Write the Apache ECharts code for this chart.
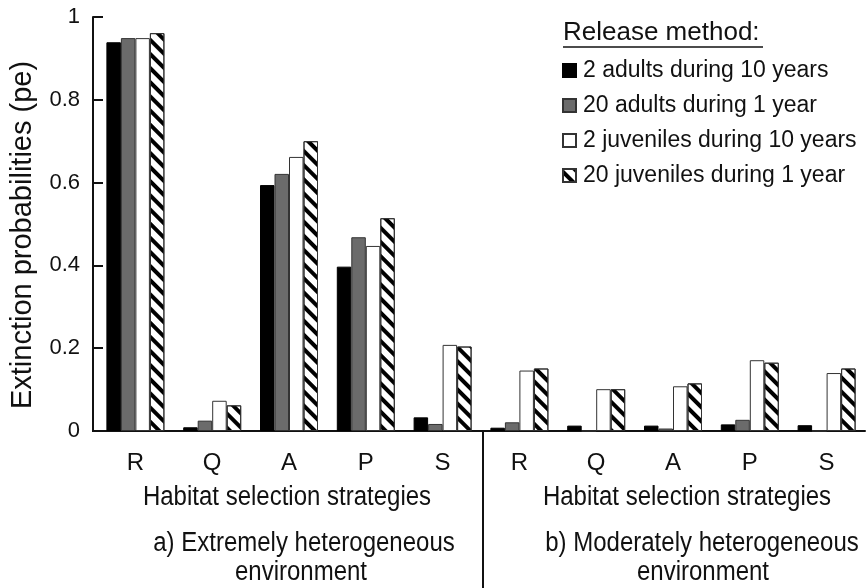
<!DOCTYPE html>
<html>
<head>
<meta charset="utf-8">
<script src="https://cdn.jsdelivr.net/npm/echarts@6/dist/echarts.min.js"></script>
<style>
html,body{margin:0;padding:0;background:#fff;}
#chart{width:866px;height:588px;}
</style>
</head>
<body>
<div id="chart"></div>
<script>
// ---- data ----
const categories = ['R', 'Q', 'A', 'P', 'S', 'R', 'Q', 'A', 'P', 'S'];
const seriesNames = ['2 adults during 10 years', '20 adults during 1 year', '2 juveniles during 10 years', '20 juveniles during 1 year'];
const adults2 = [0.939, 0.009, 0.594, 0.397, 0.033, 0.008, 0.013, 0.013, 0.016, 0.014];
const adults20 = [0.949, 0.025, 0.621, 0.468, 0.017, 0.021, 0, 0.006, 0.027, 0];
const juveniles2 = [0.949, 0.073, 0.662, 0.447, 0.208, 0.146, 0.101, 0.108, 0.171, 0.140];
const juveniles20 = [0.961, 0.062, 0.700, 0.514, 0.204, 0.151, 0.101, 0.115, 0.165, 0.151];
const yAxisTitle = 'Extinction probabilities (pe)';
const legendTitle = 'Release method:';
const xAxisTitle = 'Habitat selection strategies';
const panelTitles = [['a) Extremely heterogeneous', 'environment'], ['b) Moderately heterogeneous', 'environment']];

const FONT = '"Liberation Sans", Arial, Helvetica, sans-serif';
const INK = '#111';

const chart = echarts.init(document.getElementById('chart'));

function barSeries(name, data, style) {
  return {
    name: name,
    type: 'bar',
    data: data,
    barWidth: 14.5,
    barGap: '0%',
    itemStyle: style,
    emphasis: { disabled: true },
    animation: false
  };
}

const option = {
  backgroundColor: '#fff',
  animation: false,
  textStyle: { fontFamily: FONT, color: INK },
  grid: { left: 97, right: 1, top: 17, bottom: 157, containLabel: false },
  legend: {
    orient: 'vertical',
    left: 557,
    top: 54,
    itemWidth: 13,
    itemHeight: 13,
    itemGap: 12,
    icon: 'rect',
    selectedMode: false,
    textStyle: { fontSize: 23, color: INK, fontFamily: FONT, padding: [0, 0, 0, 2] },
    data: seriesNames
  },
  xAxis: {
    type: 'category',
    data: categories,
    axisLine: { lineStyle: { color: INK, width: 2 } },
    axisTick: { show: false },
    axisLabel: { fontSize: 24, color: INK, margin: 20, fontFamily: FONT, interval: 0 }
  },
  yAxis: {
    type: 'value',
    min: 0,
    max: 1,
    interval: 0.2,
    offset: 4,
    name: yAxisTitle,
    nameLocation: 'middle',
    nameRotate: 90,
    nameGap: 56,
    nameTextStyle: { fontSize: 29, color: INK, fontFamily: FONT, padding: [0, 22, 0, 0] },
    axisLine: { show: true, lineStyle: { color: INK, width: 2 } },
    axisTick: { show: true, inside: true, length: 10, lineStyle: { color: INK, width: 2 } },
    axisLabel: { fontSize: 22, color: INK, margin: 13, fontFamily: FONT },
    splitLine: { show: false }
  },
  series: [
    barSeries(seriesNames[0], adults2, { color: '#000', borderColor: '#000', borderWidth: 1 }),
    barSeries(seriesNames[1], adults20, { color: '#6b6b6b', borderColor: '#333', borderWidth: 1 }),
    barSeries(seriesNames[2], juveniles2, { color: '#fff', borderColor: '#333', borderWidth: 1 }),
    barSeries(seriesNames[3], juveniles20, {
      color: '#fff', borderColor: '#333', borderWidth: 1,
      decal: { symbol: 'rect', color: '#000', backgroundColor: 'transparent', dashArrayX: [1, 0], dashArrayY: [4, 6], rotation: Math.PI / 4 }
    })
  ]
};

chart.setOption(option);

const x4 = chart.convertToPixel({ xAxisIndex: 0 }, 4);
const x5 = chart.convertToPixel({ xAxisIndex: 0 }, 5);
const xMid = (x4 + x5) / 2;
const yBase = chart.convertToPixel({ yAxisIndex: 0 }, 0);
const gridLeft = chart.convertToPixel({ xAxisIndex: 0 }, 0) - (x5 - x4) / 2;
const leftCenter = chart.convertToPixel({ xAxisIndex: 0 }, 2);
const rightCenter = chart.convertToPixel({ xAxisIndex: 0 }, 7);

function txt(text, x, y, size) {
  return { type: 'text', x: x, y: y, scaleY: 1.15, silent: true,
    style: { text: text, fill: INK, font: size + 'px ' + FONT, textAlign: 'center', textVerticalAlign: 'middle' } };
}

chart.setOption({
  graphic: [
    { type: 'line', silent: true, shape: { x1: gridLeft - 5, y1: yBase, x2: gridLeft + 1, y2: yBase }, style: { stroke: INK, lineWidth: 2 } },
    { type: 'line', silent: true, shape: { x1: xMid + 2, y1: yBase, x2: xMid + 2, y2: 588 }, style: { stroke: INK, lineWidth: 2 } },
    txt(xAxisTitle, leftCenter - 2, 497, 24),
    txt(xAxisTitle, rightCenter + 14, 497, 24),
    txt(panelTitles[0][0], leftCenter + 15, 543, 24),
    txt(panelTitles[0][1], leftCenter + 12, 572, 24),
    txt(panelTitles[1][0], rightCenter + 29, 543, 24),
    txt(panelTitles[1][1], rightCenter + 30, 572, 24),
    { type: 'text', x: 563, y: 33, silent: true,
      style: { text: legendTitle, fill: INK, font: '26px ' + FONT, textAlign: 'left', textVerticalAlign: 'middle' } },
    { type: 'line', silent: true, shape: { x1: 563, y1: 47, x2: 763, y2: 47 }, style: { stroke: INK, lineWidth: 1.5 } }
  ]
});
</script>
</body>
</html>
